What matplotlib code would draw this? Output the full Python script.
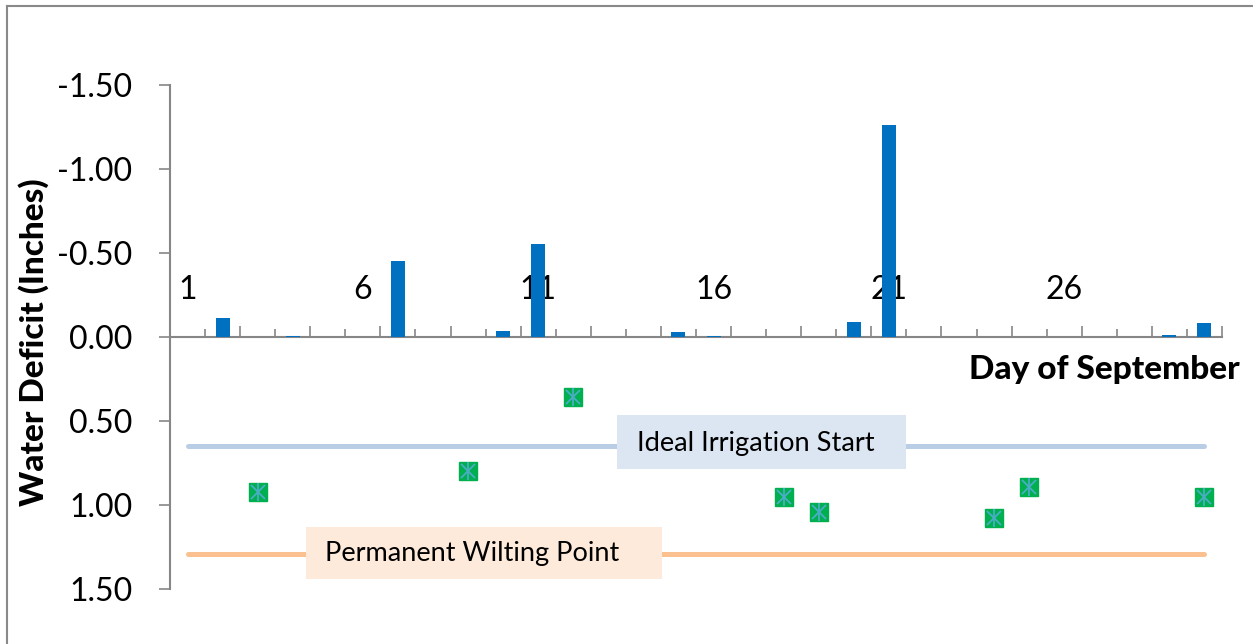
import matplotlib
matplotlib.use("Agg")
import matplotlib.pyplot as plt
from matplotlib.lines import Line2D
from matplotlib.patches import Rectangle

plt.rcParams['font.family'] = ['Lato', 'DejaVu Sans']

days = list(range(1, 31))
# negative = surplus (drawn upward because the axis is inverted)
rain = [0, -0.115, 0, -0.005, 0, 0, -0.452, 0, 0, -0.036,
        -0.555, 0, 0, 0, -0.03, -0.005, 0, 0, 0, -0.091,
        -1.262, 0, 0, 0, 0, 0, 0, 0, -0.012, -0.085]
meas_days = [3, 9, 12, 18, 19, 24, 25, 30]
meas_vals = [0.92, 0.80, 0.357, 0.952, 1.04, 1.077, 0.895, 0.952]
ideal_start = 0.65
wilting_point = 1.29
day_labels = [1, 6, 11, 16, 21, 26]
y_ticks = [-1.5, -1.0, -0.5, 0.0, 0.5, 1.0, 1.5]

grey = "#868686"
W, H = 1253, 644
fig = plt.figure(figsize=(W / 100, H / 100), dpi=100)
ax = fig.add_axes([170 / W, 1 - 589 / H, (1222 - 170) / W, (589 - 85) / H])

# reference lines with text boxes
ax.plot([days[0], days[-1]], [ideal_start] * 2, color="#B9CDE5", lw=3.6,
        solid_capstyle="round", zorder=1)
ax.plot([days[0], days[-1]], [wilting_point] * 2, color="#FAC090", lw=3.6,
        solid_capstyle="round", zorder=1)
ax.add_patch(Rectangle((13.24, 0.464), 21.5 - 13.24, 0.786 - 0.464,
                       facecolor="#DCE6F2", edgecolor="none", zorder=2))
ax.text(13.81, 0.635, "Ideal Irrigation Start", fontsize=19.6, va="center",
        ha="left", zorder=3)
ax.add_patch(Rectangle((4.386, 1.131), 14.53 - 4.386, 1.44 - 1.131,
                       facecolor="#FDEADA", edgecolor="none", zorder=2))
ax.text(4.93, 1.29, "Permanent Wilting Point", fontsize=19.5, va="center",
        ha="left", zorder=3)

ax.bar(days, rain, width=0.4, color="#0070C0", zorder=4)

ax.plot(meas_days, meas_vals, ls="none", marker="s", ms=13.5,
        mfc="#00B050", mec="#00B050", zorder=5)
ax.plot(meas_days, meas_vals, ls="none", marker="x", ms=9.5, mew=1.3,
        color="#4BACC6", zorder=6)
ax.plot(meas_days, meas_vals, ls="none", marker="|", ms=13, mew=1.3,
        color="#4BACC6", zorder=6)

ax.set_xlim(0.5, 30.5)
ax.set_ylim(1.5, -1.5)

for s in ["top", "right"]:
    ax.spines[s].set_visible(False)
ax.spines["bottom"].set_position(("data", 0))
for s in ["left", "bottom"]:
    ax.spines[s].set_color(grey)
    ax.spines[s].set_linewidth(1.5)

ax.set_yticks(y_ticks)
ax.set_yticklabels(["%.2f" % v for v in y_ticks])
ax.tick_params(axis="y", direction="out", length=8, width=1.2, color=grey,
               labelsize=23, pad=19)

bounds = [d - 0.5 for d in days] + [days[-1] + 0.5]
ax.set_xticks(bounds[::2])
ax.set_xticks(bounds[1::2], minor=True)
ax.set_xticklabels([])
ax.tick_params(axis="x", which="major", direction="in", length=8, width=1.2,
               color=grey)
ax.tick_params(axis="x", which="minor", direction="in", length=6, width=1.2,
               color=grey)
for d in day_labels:
    ax.text(d, -0.28, str(d), fontsize=23, ha="center", va="center")

fig.text(34 / W, 1 - 342 / H, "Water Deficit (Inches)", rotation=90,
         fontsize=24, fontweight="black", ha="center", va="center")
fig.text(1240 / W, 1 - 370 / H, "Day of September", fontsize=24,
         fontweight="black", ha="right", va="center")

# chart area border (only top and left show in the crop)
fig.add_artist(Line2D([7 / W, 7 / W], [0, 1 - 5.5 / H], color="#898989",
                      lw=1.5, transform=fig.transFigure))
fig.add_artist(Line2D([7 / W, 1], [1 - 5.5 / H, 1 - 5.5 / H], color="#898989",
                      lw=1.5, transform=fig.transFigure))

fig.savefig("out.png", dpi=100)
